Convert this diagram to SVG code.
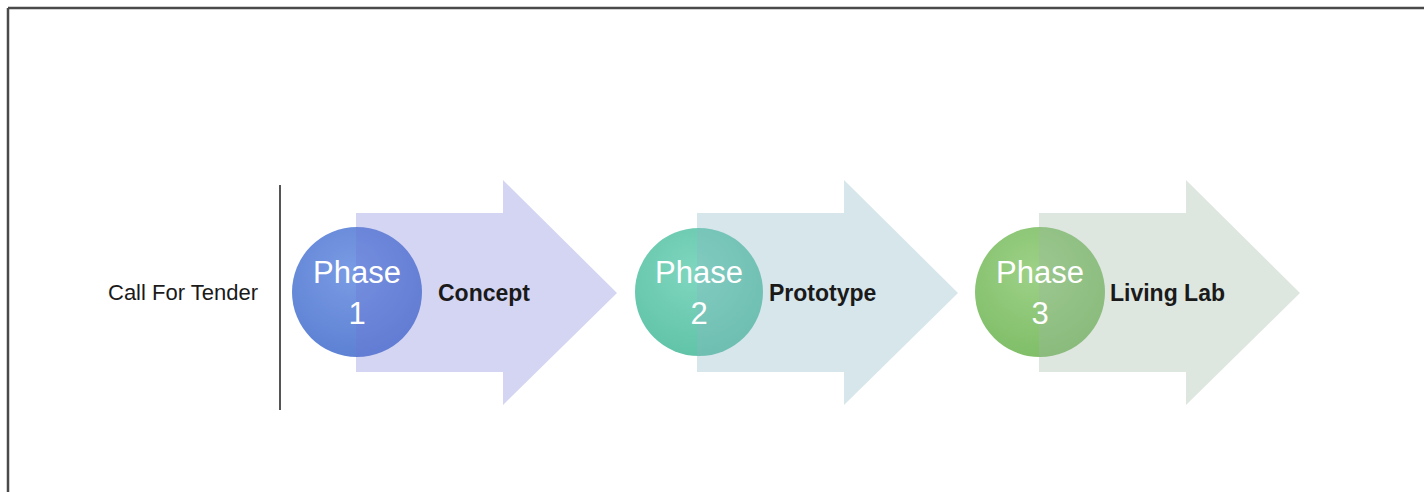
<svg xmlns="http://www.w3.org/2000/svg" width="1424" height="492" viewBox="0 0 1424 492">
<defs>
<radialGradient id="g1" cx="0.45" cy="0.35" r="0.7">
<stop offset="0" stop-color="#7a9be4"/><stop offset="1" stop-color="#5b7fd2"/>
</radialGradient>
<radialGradient id="g2" cx="0.45" cy="0.35" r="0.7">
<stop offset="0" stop-color="#7fd6bf"/><stop offset="1" stop-color="#5ec2a6"/>
</radialGradient>
<radialGradient id="g3" cx="0.45" cy="0.35" r="0.7">
<stop offset="0" stop-color="#9dd187"/><stop offset="1" stop-color="#7ebd66"/>
</radialGradient>
<path id="arrow" d="M0,-80 H147 V-113 L261,0 L147,112 V79 H0 Z"/>
</defs>
<style>
.frame{stroke:#4a4a4a;stroke-width:2.5;fill:none}
.ph{font-family:"Liberation Sans",Arial,sans-serif;font-size:31px;fill:#ffffff;text-anchor:middle}
.lbl{font-family:"Liberation Sans",Arial,sans-serif;font-size:23px;font-weight:bold;fill:#1a1a1a}
.cft{font-family:"Liberation Sans",Arial,sans-serif;font-size:22px;fill:#1a1a1a}
</style>
<rect width="1424" height="492" fill="#ffffff"/>
<line class="frame" x1="8" y1="8" x2="1424" y2="8"/>
<line class="frame" x1="8" y1="8" x2="8" y2="492"/>
<g id="call-for-tender">
<text class="cft" x="108" y="300">Call For Tender</text>
<line x1="280" y1="185" x2="280" y2="410" stroke="#555" stroke-width="2"/>
</g>
<g id="phase1">
<circle cx="357" cy="292" r="65" fill="url(#g1)"/>
<use href="#arrow" transform="translate(356,293)" fill="#6c73d4" fill-opacity="0.3"/>
<text class="ph" x="357" y="283">Phase</text>
<text class="ph" x="357" y="324">1</text>
<text class="lbl" x="438" y="301">Concept</text>
</g>
<g id="phase2">
<circle cx="699" cy="292" r="64" fill="url(#g2)"/>
<use href="#arrow" transform="translate(697,293)" fill="#8ab6c6" fill-opacity="0.35"/>
<text class="ph" x="699" y="283">Phase</text>
<text class="ph" x="699" y="324">2</text>
<text class="lbl" x="769" y="301">Prototype</text>
</g>
<g id="phase3">
<circle cx="1040" cy="292" r="65" fill="url(#g3)"/>
<use href="#arrow" transform="translate(1039,293)" fill="#9db8a3" fill-opacity="0.35"/>
<text class="ph" x="1040" y="283">Phase</text>
<text class="ph" x="1040" y="324">3</text>
<text class="lbl" x="1110" y="301">Living Lab</text>
</g>
<g id="connectors"/>
</svg>
